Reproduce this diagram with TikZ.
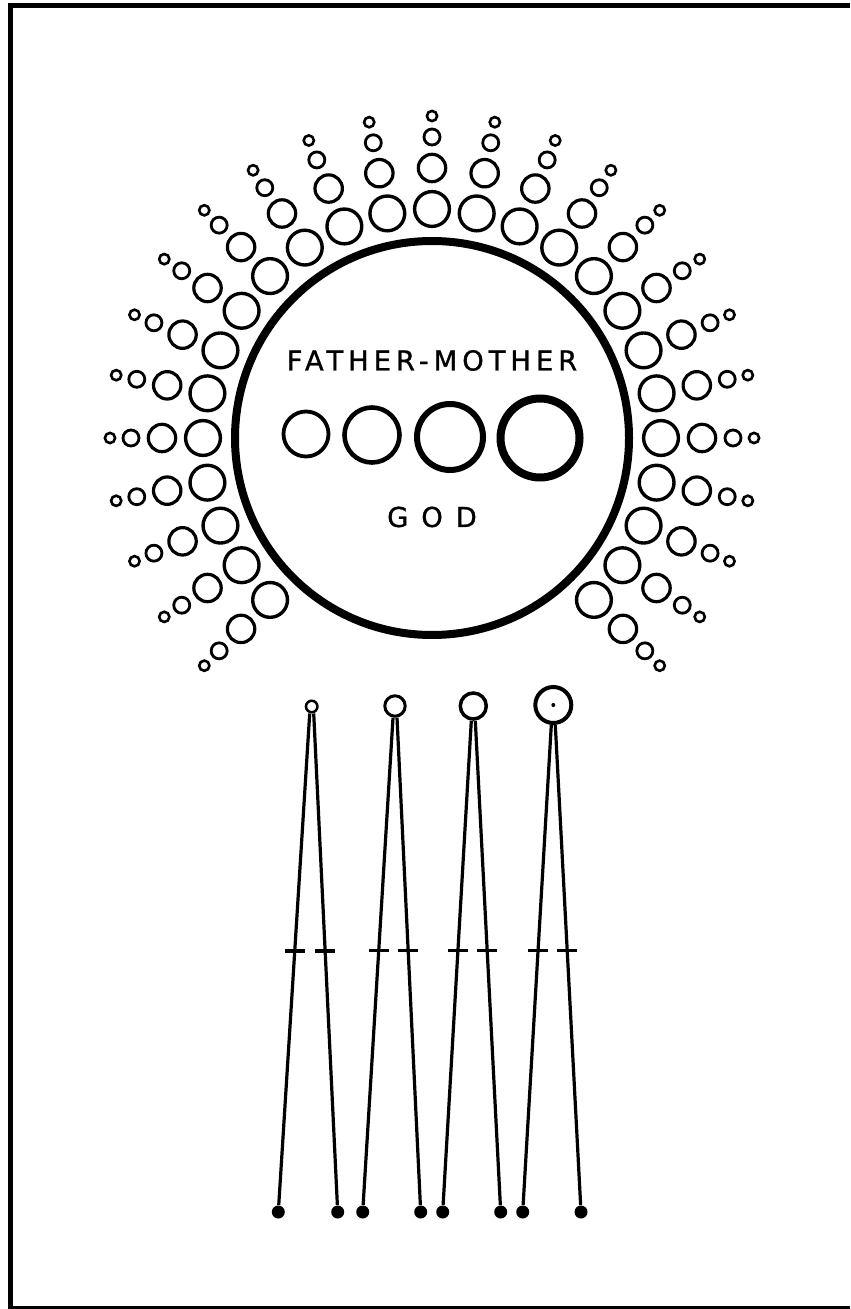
\documentclass[tikz,border=0pt]{standalone}
\usepackage{fontspec}
\setmainfont{DejaVu Sans}
\usetikzlibrary{calc}

\begin{document}
\begin{tikzpicture}[x=0.5pt,y=-0.5pt,
  frameline/.style={line width=2.75pt},
  godring/.style={line width=4pt},
  headring/.style={circle,draw,inner sep=0pt},
  footdot/.style={circle,fill,inner sep=0pt,minimum size=6.5pt},
  leg/.style={line width=1.6pt},
  crossbar/.style={line width=1.6pt},
  lettering/.style={inner sep=0pt,font=\fontsize{13.7}{16}\selectfont}]
  \useasboundingbox (0,0) rectangle (850,1309);
  % frame, open at the right
  \draw[frameline] (850,5.5) -- (10.5,5.5) -- (10.5,1309);
  \draw[line width=1.75pt] (10.5,1307.5) -- (850,1307.5);
  % the great circle
  \coordinate (god) at (432,438);
  \draw[godring] (god) circle[radius=197];
  % rays of bubbles
  \foreach \k [evaluate=\k as \a using -225+11.25*\k] in {0,...,24}
    \foreach \d/\r/\w in {229/17.4/1.7pt,270/13.7/1.6pt,301/8/1.4pt,322/5.1/1.3pt}
      \draw[line width=\w] ($(god)+(\a:\d)$) circle[radius=\r];
  % four circles inside
  \foreach \cx/\cy/\r/\w in {306/434/22.5/1.9pt,372/435/27.5/2.3pt,450/437/33/3pt,540/438/39.5/4pt}
    \draw[line width=\w] (\cx,\cy) circle[radius=\r];
  \node[lettering] (fathermother) at (432,360.5) {\addfontfeatures{LetterSpace=18,FakeBold=1}FATHER-MOTHER};
  \node[lettering] (godname) at (432,517) {\addfontfeatures{LetterSpace=47,FakeBold=1}GOD};
  % the four compasses
  \foreach \i/\cx/\cy/\hs/\w/\la/\ra/\p in {1/311.7/706.5/5.75pt/1.25pt/278.3/337.7/0.483,
      2/395/706/10.2pt/1.5pt/362.7/420.7/0.478,
      3/473.3/706/13pt/1.75pt/442.7/500.7/0.475,
      4/553.3/705/18pt/2pt/522.7/581/0.47}
  {
    \node[headring,minimum size=\hs,line width=\w] (head\i) at (\cx,\cy) {};
    \node[footdot] (footL\i) at (\la,1212) {};
    \node[footdot] (footR\i) at (\ra,1212) {};
    \draw[leg] ([xshift=-1pt]head\i.south) -- coordinate[pos=\p] (barL\i) (footL\i);
    \draw[leg] ([xshift=1pt]head\i.south) -- coordinate[pos=\p] (barR\i) (footR\i);
    \draw[crossbar] (barL\i) +(-10,0) -- +(10,0);
    \draw[crossbar] (barR\i) +(-10,0) -- +(10,0);
  }
  \fill (head4) circle[radius=2];
\end{tikzpicture}
\end{document}
